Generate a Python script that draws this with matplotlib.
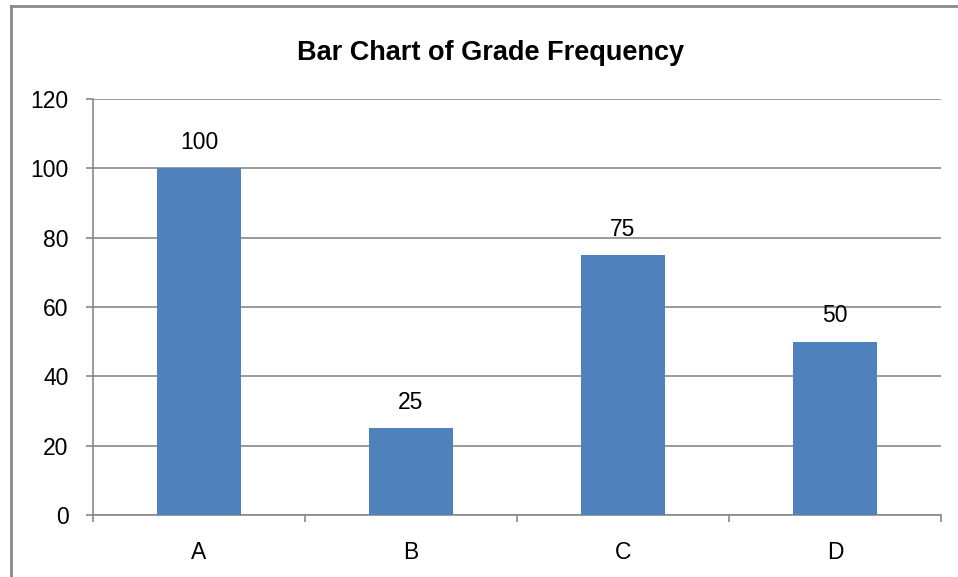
import matplotlib.pyplot as plt
from matplotlib.lines import Line2D

grades = ['A', 'B', 'C', 'D']
frequency = [100, 25, 75, 50]
y_ticks = [0, 20, 40, 60, 80, 100, 120]

plt.rcParams['font.family'] = ['Liberation Sans', 'DejaVu Sans']

fig = plt.figure(figsize=(9.58, 5.77), dpi=100)
ax = fig.add_axes([0.0971, 0.1075, 0.8852, 0.7209])

grey = '#898989'
x = list(range(len(grades)))
bars = ax.bar(x, frequency, width=0.4, color='#4F81BD', zorder=3)

# value labels above bars
for xi, v in zip(x, frequency):
    ax.annotate(str(v), (xi, v), xytext=(0, 18.5), textcoords='offset points',
                ha='center', va='center', fontsize=16.5)

ax.set_xlim(-0.5, len(grades) - 0.5)
ax.set_ylim(0, 120)
ax.set_yticks(y_ticks)
ax.yaxis.grid(True, color=grey, lw=1.2, zorder=0)
ax.set_axisbelow(True)

# category labels centred, tick marks on boundaries
ax.set_xticks(x)
ax.set_xticklabels(grades, fontsize=16.5)
ax.tick_params(axis='x', length=0, pad=19)
ax.set_xticks([i - 0.5 for i in range(len(grades) + 1)], minor=True)
ax.tick_params(axis='x', which='minor', length=5, color=grey, width=1.2)
ax.tick_params(axis='y', length=5, color=grey, width=1.2, labelsize=16.5, pad=12.5)

for s in ['top', 'right']:
    ax.spines[s].set_visible(False)
for s in ['left', 'bottom']:
    ax.spines[s].set_color(grey)
    ax.spines[s].set_linewidth(1.2)

ax.set_title('Bar Chart of Grade Frequency', fontsize=19.5, fontweight='bold', pad=28, x=0.469)

# partial outer chart border (left and top)
fig.add_artist(Line2D([11 / 958, 11 / 958], [0, 1 - 6 / 577], color='#8a8a8a', lw=2,
                      transform=fig.transFigure))
fig.add_artist(Line2D([11 / 958, 1], [1 - 6 / 577, 1 - 6 / 577], color='#8a8a8a', lw=2,
                      transform=fig.transFigure))

fig.savefig('out.png', dpi=100)
